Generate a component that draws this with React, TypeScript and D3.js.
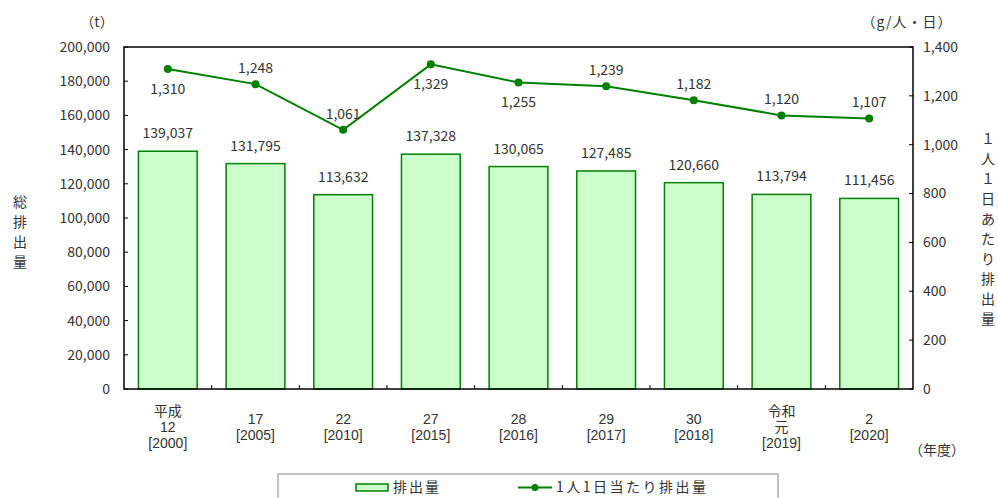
import React from "react";
import * as d3 from "d3";

const categories: string[][] = [
  ["平成", "12", "[2000]"],
  ["17", "[2005]"],
  ["22", "[2010]"],
  ["27", "[2015]"],
  ["28", "[2016]"],
  ["29", "[2017]"],
  ["30", "[2018]"],
  ["令和", "元", "[2019]"],
  ["2", "[2020]"],
];
const totalEmission = [139037, 131795, 113632, 137328, 130065, 127485, 120660, 113794, 111456];
const perCapita = [1310, 1248, 1061, 1329, 1255, 1239, 1182, 1120, 1107];
const perCapitaLabelBelow = [true, false, false, true, true, false, false, false, false];
const leftTicks = [0, 20000, 40000, 60000, 80000, 100000, 120000, 140000, 160000, 180000, 200000];
const rightTicks = [0, 200, 400, 600, 800, 1000, 1200, 1400];

const W = 998, H = 498;
const L = 124, R = 913, T = 47, B = 389;
const FONT = "'Noto Sans CJK JP', 'Noto Sans', sans-serif";
const XFONT = "'Liberation Sans', 'Noto Sans CJK JP', sans-serif";
const GREEN = "#008000";
const FILL = "#ccffcc";
const TXT = "#333";

export default function App() {
  const idx = categories.map((_, i) => String(i));
  const x = d3.scaleBand<string>().domain(idx).range([L, R]).paddingInner(0.33).paddingOuter(0.165);
  const xOuter = d3.scaleBand<string>().domain(idx).range([L, R]);
  const yL = d3.scaleLinear().domain([0, 200000]).range([B, T]);
  const yR = d3.scaleLinear().domain([0, 1400]).range([B, T]);
  const fmt = d3.format(",");
  const cx = (i: number) => (xOuter(String(i)) as number) + xOuter.bandwidth() / 2;
  const line = d3.line<number>().x((_, i) => cx(i)).y((d) => yR(d));

  return (
    <svg width={W} height={H} style={{ position: "absolute", left: 0, top: 0 }} fontFamily={FONT}>
      <rect x={0} y={0} width={W} height={H} fill="#fff" />
      {/* bars */}
      {totalEmission.map((v, i) => (
        <rect key={"b" + i} x={x(String(i))} y={yL(v)} width={x.bandwidth()} height={B - yL(v)}
          fill={FILL} stroke={GREEN} strokeWidth={1.5} />
      ))}
      {/* frame */}
      <rect x={L} y={T} width={R - L} height={B - T} fill="none" stroke="#000" strokeWidth={1.5} />
      {/* left ticks */}
      {leftTicks.map((t) => (
        <g key={"lt" + t}>
          <line x1={L} x2={L + 4} y1={yL(t)} y2={yL(t)} stroke="#000" />
          <text x={110} y={yL(t)} dy="0.35em" textAnchor="end" fontSize={14} fill={TXT}>{fmt(t)}</text>
        </g>
      ))}
      {/* right ticks */}
      {rightTicks.map((t) => (
        <g key={"rt" + t}>
          <line x1={R - 4} x2={R} y1={yR(t)} y2={yR(t)} stroke="#000" />
          <text x={923} y={yR(t)} dy="0.35em" textAnchor="start" fontSize={14} fill={TXT}>{fmt(t)}</text>
        </g>
      ))}
      {/* x ticks at boundaries */}
      {idx.slice(1).map((c) => (
        <line key={"xt" + c} x1={xOuter(c)} x2={xOuter(c)} y1={B} y2={B - 4} stroke="#000" />
      ))}
      {/* x labels */}
      {categories.map((lines, i) =>
        lines.map((s, j) => (
          <text key={"xl" + i + "-" + j} x={cx(i)} y={427 + (j - (lines.length - 1) / 2) * 16} dy="0.35em"
            textAnchor="middle" fontSize={14} fontFamily={XFONT} fill={TXT}>{s}</text>
        ))
      )}
      {/* bar labels */}
      {totalEmission.map((v, i) => (
        <text key={"bl" + i} x={cx(i)} y={yL(v) - 13} textAnchor="middle" fontSize={14} fill={TXT}>{fmt(v)}</text>
      ))}
      {/* line */}
      <path d={line(perCapita) as string} fill="none" stroke={GREEN} strokeWidth={2} />
      {perCapita.map((v, i) => (
        <circle key={"p" + i} cx={cx(i)} cy={yR(v)} r={4} fill={GREEN} />
      ))}
      {perCapita.map((v, i) => (
        <text key={"pl" + i} x={cx(i)} y={perCapitaLabelBelow[i] ? yR(v) + 20 : yR(v) - 16}
          dy="0.35em" textAnchor="middle" fontSize={14} fill={TXT}>{fmt(v)}</text>
      ))}
      {/* axis titles */}
      <text x={97} y={22} dy="0.35em" textAnchor="middle" fontSize={14} fill={TXT}>（t）</text>
      <text x={907} y={22} dy="0.35em" textAnchor="middle" fontSize={14} fill={TXT} letterSpacing={1}>（g/人・日）</text>
      <text x={937} y={450} dy="0.35em" textAnchor="middle" fontSize={14} fill={TXT}>（年度）</text>
      {["総", "排", "出", "量"].map((s, j) => (
        <text key={"lt" + j} x={20} y={202 + j * 20} dy="0.35em" textAnchor="middle" fontSize={14} fill={TXT}>{s}</text>
      ))}
      {["１", "人", "１", "日", "あ", "た", "り", "排", "出", "量"].map((s, j) => (
        <text key={"rtl" + j} x={988} y={139 + j * 20} dy="0.35em" textAnchor="middle" fontSize={14} fill={TXT}>{s}</text>
      ))}
      {/* legend */}
      <rect x={278} y={474} width={500} height={40} fill="#fff" stroke="#888" strokeWidth={1} />
      <rect x={356} y={484} width={32} height={7} fill={FILL} stroke={GREEN} strokeWidth={1.5} />
      <text x={393} y={487.5} dy="0.35em" fontSize={14} fill={TXT} letterSpacing={2}>排出量</text>
      <line x1={518} x2={552} y1={487.5} y2={487.5} stroke={GREEN} strokeWidth={2} />
      <circle cx={535} cy={487.5} r={3.5} fill={GREEN} />
      <text x={556} y={487.5} dy="0.35em" fontSize={14} fill={TXT} letterSpacing={2.5}>1人1日当たり排出量</text>
    </svg>
  );
}
